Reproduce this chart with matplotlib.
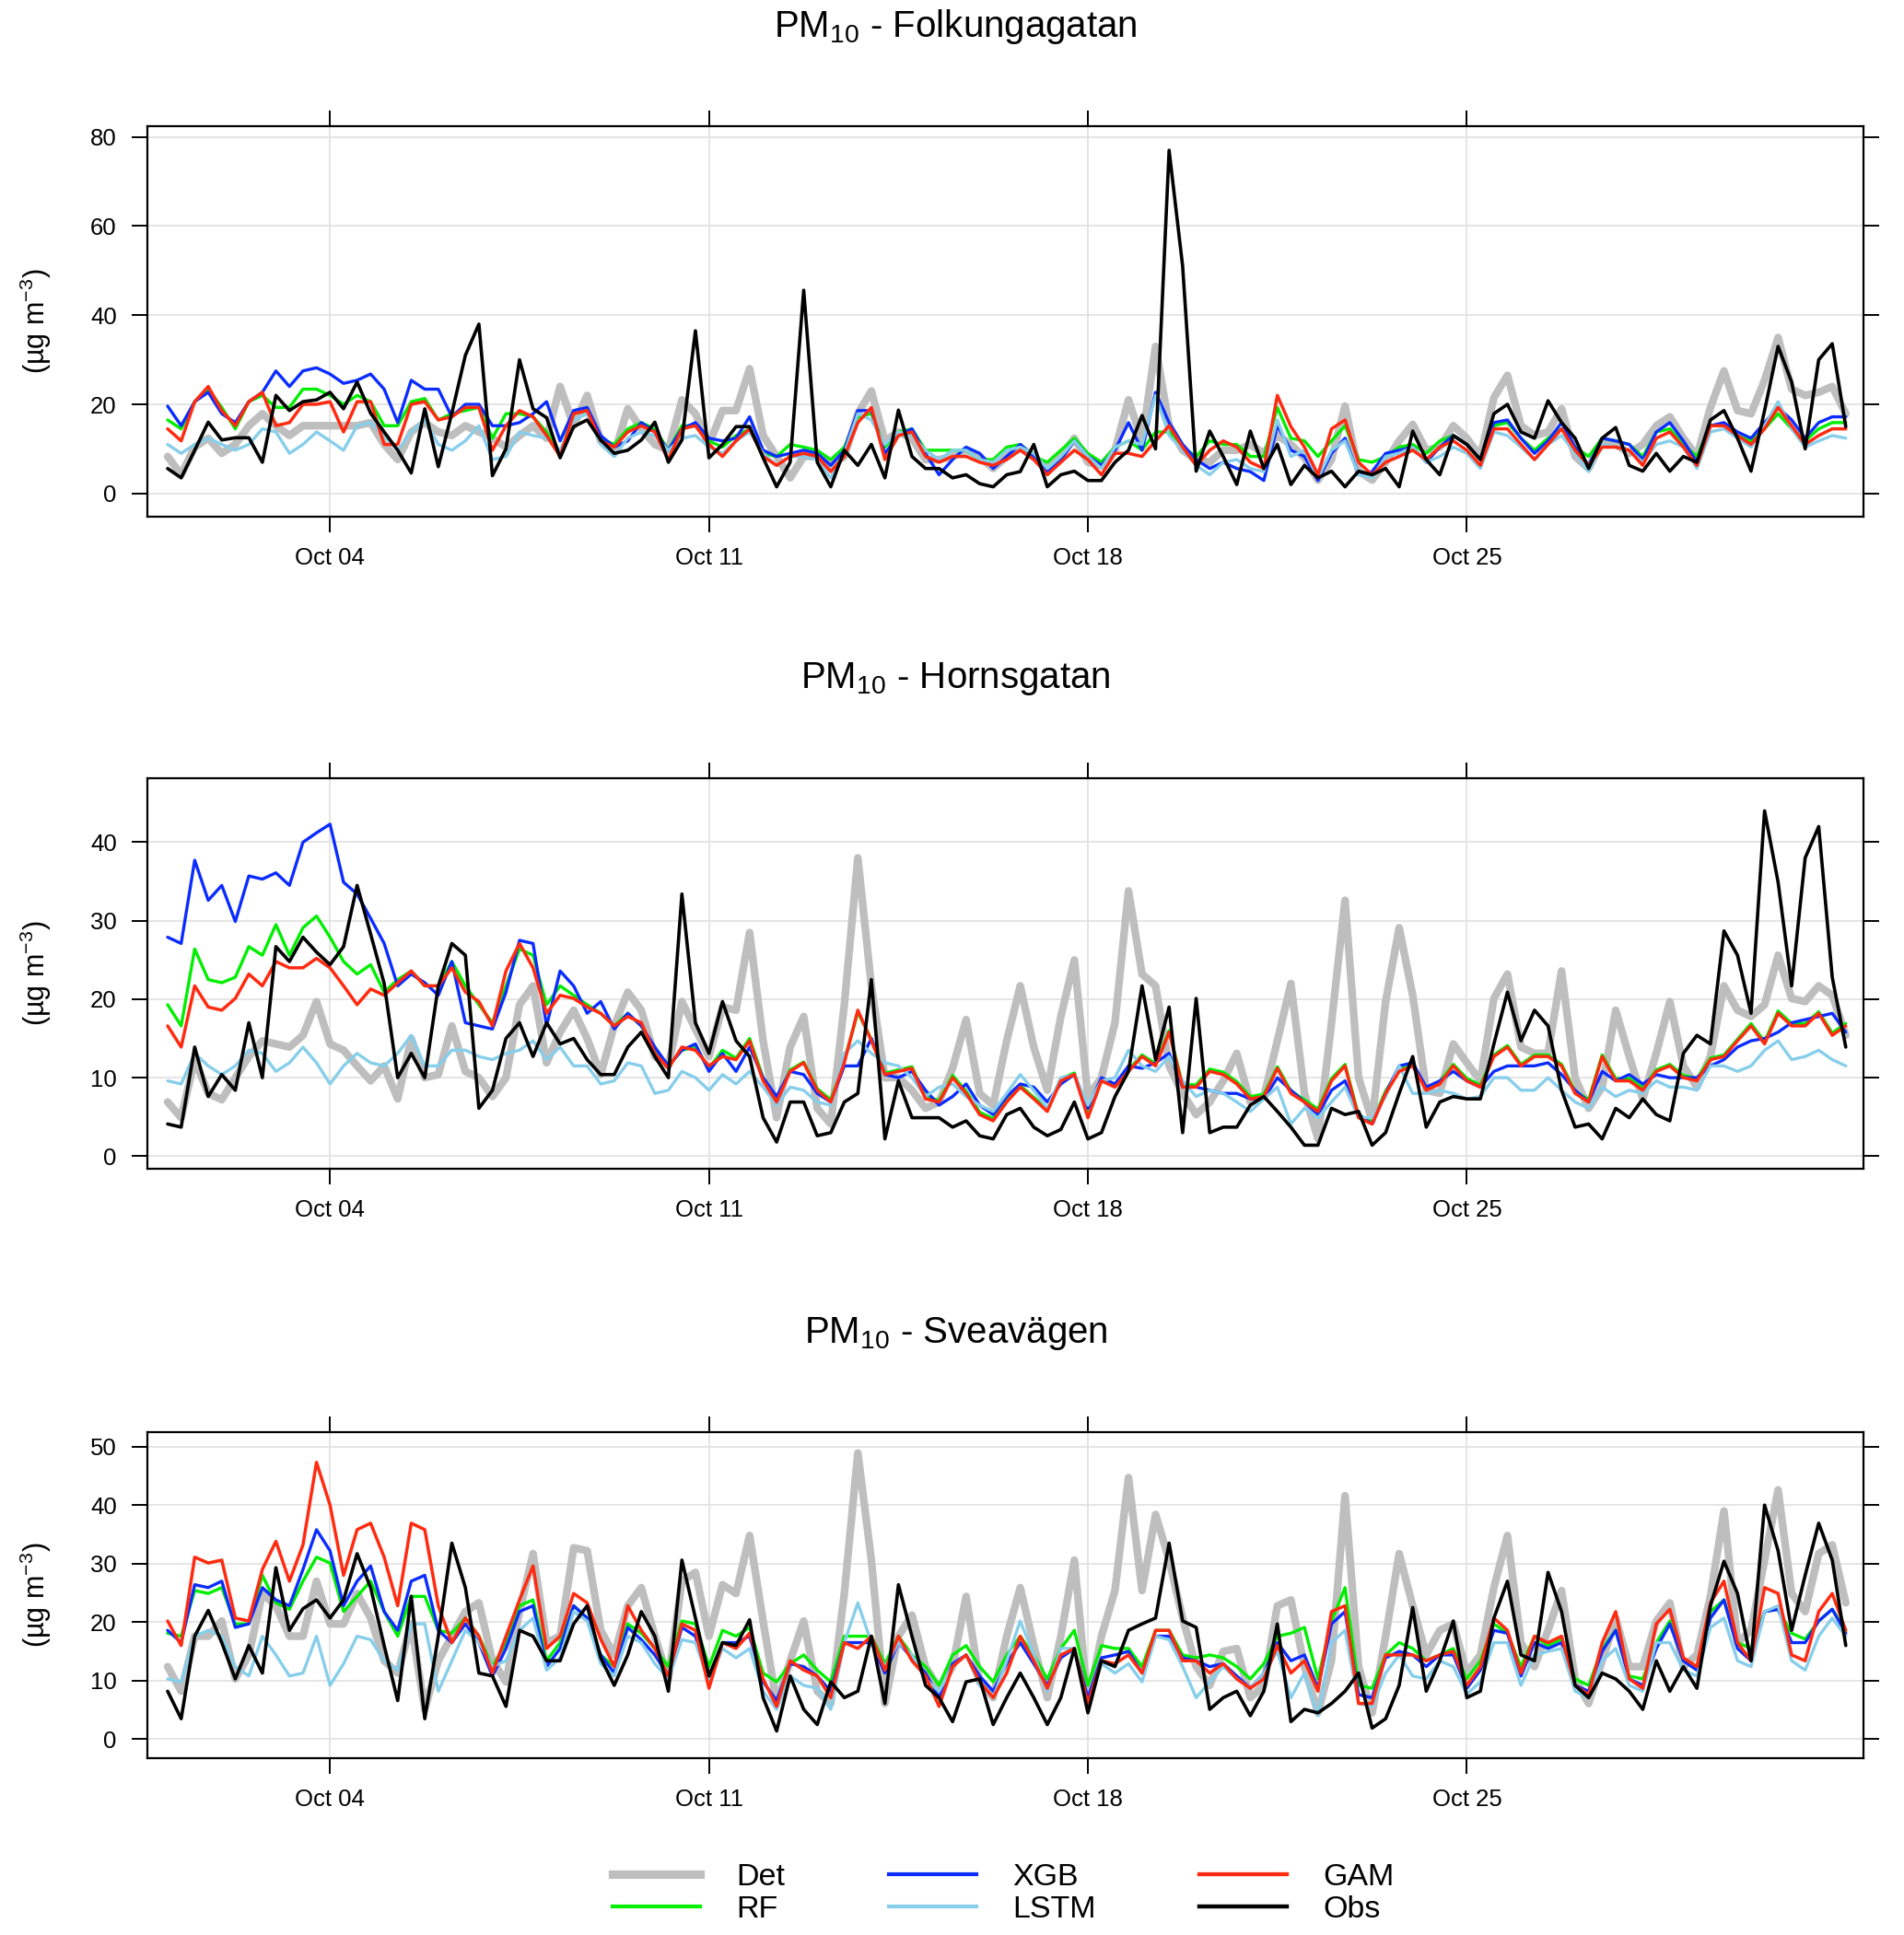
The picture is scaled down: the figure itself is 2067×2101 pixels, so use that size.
import numpy as np
import pandas as pd
import matplotlib
matplotlib.use("Agg")
import matplotlib.pyplot as plt
import matplotlib.dates as mdates
from matplotlib.lines import Line2D

plt.rcParams["font.family"] = ["Liberation Sans", "DejaVu Sans"]
plt.rcParams["mathtext.fontset"] = "custom"
plt.rcParams["mathtext.rm"] = "Liberation Sans"
plt.rcParams["mathtext.it"] = "Liberation Sans:italic"

# 6-hourly samples, 1 Oct 00:00 .. 1 Nov 00:00
times = pd.date_range("2020-10-01", periods=125, freq="6h")

# --------------------------------------------------
# Folkungagatan
# --------------------------------------------------
obs1 = [5.6, 3.5, 9.7, 16, 12, 12.5, 12.5, 7, 22, 18.6, 20.6, 21, 22.7, 19, 25, 18,
        13.8, 9.7, 4.6, 19, 6, 18, 31, 38, 4, 10, 30, 19, 17, 8, 15, 16.5,
        12, 9, 9.7, 12, 16, 7, 12, 36.5, 8, 11, 15, 15, 8, 1.5, 7, 45.6,
        7, 1.5, 9.7, 6.3, 11, 3.5, 18.7, 8.3, 5.6, 5.6, 3.5, 4.2, 2.2, 1.5, 4.2, 4.9,
        11, 1.5, 4.2, 5, 2.9, 2.9, 7, 9.7, 17.5, 10, 77, 51, 5, 14, 8.3, 2,
        14, 5.6, 11, 2, 6.3, 3.5, 5, 1.5, 5, 4.2, 5.6, 1.5, 14, 7.6, 4.2, 13,
        11, 7.6, 17.9, 20, 13.8, 12.4, 20.8, 15.9, 12.4, 5.6, 12.4, 14.8, 6.3, 5, 9, 5,
        8.3, 7, 16.5, 18.6, 12.4, 5, 18.6, 33, 25, 10, 30, 33.6, 15]
det1 = [8.3, 4.2, 10.4, 12.4, 9, 11, 15.2, 17.9, 15.2, 13, 15.2, 15.2, 15.2, 15.2, 15.2, 15.9,
        11, 7.6, 13.8, 15.9, 13.8, 13, 15.2, 13.8, 12.4, 10.4, 13, 15.2, 12.4, 24, 15.2, 22,
        11.8, 9, 19, 14.5, 11, 9.7, 21, 17.9, 11, 18.6, 18.6, 28, 13, 8.3, 3.5, 8.3,
        8.3, 6.3, 8.3, 17.9, 23, 11.8, 13.8, 12.4, 7.6, 7.6, 8.3, 9.7, 8.3, 5.6, 8.3, 10.4,
        8.3, 5.6, 8.3, 12.4, 7, 6.3, 9.7, 21, 11.8, 33, 15.2, 9.7, 7.6, 7, 9.7, 9.7,
        11, 9, 13, 11, 8, 3, 7.6, 19.6, 5, 3, 7, 11.8, 15.5, 9.7, 10.4, 15.2,
        12.4, 8.3, 21.5, 26.5, 15.2, 13, 13.8, 19, 8.3, 5.6, 11.8, 11, 9, 11, 15.2, 17.2,
        12.4, 8.3, 19.3, 27.5, 18.6, 17.9, 25.4, 35, 23.4, 22, 22.7, 24, 17.9]
rf1 = [16.5, 14.5, 20.6, 23.4, 19.3, 14.5, 20.6, 22, 19.3, 19.3, 23.4, 23.4, 22, 20, 22, 20.6,
       15.2, 15.2, 20.6, 21.3, 16.5, 17.9, 18.6, 19.3, 12.4, 17.9, 17.9, 17.2, 13.8, 9, 17.9, 18.6,
       12.4, 11, 14.5, 15.9, 14.5, 9.7, 15.2, 15.2, 11.8, 10.4, 13, 14.5, 9, 8.3, 11, 10.4,
       9.7, 7.6, 10.4, 17.2, 17.9, 10.4, 13.8, 14.5, 9.7, 9.7, 9.7, 9.7, 7.6, 7.6, 10.4, 11,
       8.3, 7, 9.7, 12.4, 9, 7, 10.4, 11.8, 9.7, 13.8, 13.8, 10.4, 8.3, 11.8, 11, 11,
       8.3, 8.3, 19.3, 12.4, 11.8, 8.3, 11.8, 15.2, 7.6, 7, 8.3, 10.4, 11, 9, 11.8, 13,
       11, 7.6, 15.2, 15.9, 12.4, 9.7, 12.4, 14.5, 10.4, 8.3, 12.4, 11.8, 11, 8.3, 13.8, 14.5,
       11, 8.3, 15.2, 15.2, 13, 11.8, 14.5, 17.9, 14.5, 11.8, 14.5, 15.9, 15.9]
xgb1 = [19.6, 15.2, 20.6, 22.7, 17.9, 15.9, 20.6, 22.7, 27.5, 24, 27.5, 28.2, 26.8, 24.7, 25.4, 26.8,
        23.4, 15.9, 25.4, 23.4, 23.4, 17.2, 20, 20, 15.2, 15.2, 15.9, 17.9, 20.6, 11.8, 18.6, 19.3,
        13, 10.4, 11.8, 15.9, 13.8, 9.7, 14.5, 15.9, 12.4, 11.8, 12.4, 17.2, 9.7, 8.3, 9, 9.7,
        9, 6.3, 9.7, 18.6, 18.6, 9, 13, 14.5, 9, 4.2, 7.6, 10.4, 9, 5.6, 8.3, 11,
        8.3, 4.9, 7.6, 11.8, 8.3, 6.3, 9.7, 15.9, 9.7, 22.7, 15.9, 11, 7.6, 5.6, 7, 5.6,
        4.9, 2.9, 15.2, 9.7, 8.3, 2.9, 9, 12.4, 4.2, 4.9, 9, 9.7, 10.4, 7, 10.4, 13,
        11, 7.6, 15.9, 16.5, 12.4, 9, 11.8, 15.9, 10.4, 6.3, 12.4, 11.8, 11, 7.6, 13.8, 15.9,
        11.8, 7, 15.2, 15.9, 13.8, 12.4, 15.9, 19.3, 16.5, 12.4, 15.9, 17.2, 17.2]
lstm1 = [11, 9, 11, 12.4, 11, 9.7, 11, 14.5, 13.8, 9, 11, 13.8, 11.8, 9.7, 15.2, 15.9,
         13, 9.7, 13.8, 16.5, 11, 9.7, 11.8, 15.2, 7.6, 8.3, 13.8, 13, 12.4, 9.7, 16.5, 17.9,
         11, 8.3, 12.4, 13.8, 13, 9.7, 12.4, 13, 10.4, 9, 11.8, 13.8, 9, 6.3, 8.3, 8.3,
         7.6, 3.5, 9, 17.9, 16.5, 11, 13.8, 13, 9.7, 7.6, 9.7, 9.7, 7.6, 7, 9.7, 10.4,
         9, 5.6, 8.3, 11.8, 8.3, 5.6, 10.4, 11.8, 11, 22, 13, 9.7, 6.3, 4.2, 7, 7.6,
         5.6, 4.9, 16.5, 8.3, 9.7, 3.5, 9.7, 11.8, 4.2, 3.5, 8.3, 9, 10.4, 7, 8.3, 10.4,
         9, 5.6, 13.8, 13, 10.4, 7.6, 11, 13, 9, 4.9, 11, 10.4, 9.7, 7, 11, 11.8,
         10.4, 5.6, 13.8, 14.5, 12.4, 10.4, 15.2, 20.6, 14.5, 10.4, 11.8, 13, 12.4]
gam1 = [14.5, 11.8, 20.6, 24, 18.6, 15.2, 20.6, 22.7, 15.2, 15.9, 20, 20, 20.6, 13.8, 20.6, 20.6,
        11, 11, 20, 20.6, 16.5, 17.2, 19.3, 19.3, 9.7, 15.2, 18.6, 17.2, 13, 8.3, 17.9, 18.6,
        11.8, 10.4, 13.8, 15.2, 13.8, 7.6, 14.5, 15.2, 11, 8.3, 11.8, 14.5, 8.3, 6.3, 8.3, 9,
        8.3, 4.9, 8.3, 15.9, 19.3, 7.6, 13, 13.8, 8.3, 7, 8.3, 8.3, 7, 6.3, 7.6, 9.7,
        7.6, 4.2, 7, 9.7, 7.6, 4.2, 9, 9, 8.3, 11.8, 15.2, 10.4, 6.3, 9.7, 11.8, 10.4,
        7, 5.6, 22, 15, 10.4, 4.2, 14.5, 16.5, 7, 4.2, 7, 8.3, 9.7, 7.6, 10.4, 11.8,
        9.7, 6.3, 14.5, 14.5, 11, 7.6, 11, 14.5, 9.7, 6.3, 10.4, 10.4, 9.7, 6.3, 12.4, 13.8,
        10.4, 6.3, 15.2, 15.2, 13, 11, 14.5, 19.3, 15.2, 11, 13, 14.5, 14.5]

# --------------------------------------------------
# Hornsgatan
# --------------------------------------------------
obs2 = [4.1, 3.7, 13.9, 7.6, 10.4, 8.4, 17, 10, 26.7, 24.8, 27.9, 26, 24.4, 26.7, 34.5, 28.3,
        22, 10, 13.1, 10, 21.7, 27.1, 25.6, 6.1, 8.4, 15, 17, 12.7, 17, 14.3, 15, 12.3,
        10.4, 10.4, 13.9, 15.8, 12.7, 10, 33.4, 17, 13.1, 19.7, 14.7, 12.7, 4.9, 1.8, 6.9, 6.9,
        2.6, 3, 6.9, 8, 22.5, 2.2, 9.6, 4.9, 4.9, 4.9, 3.7, 4.5, 2.6, 2.2, 5.3, 6.1,
        3.7, 2.6, 3.4, 6.9, 2.2, 3, 7.6, 10.8, 21.7, 12.3, 19, 3, 20.1, 3, 3.7, 3.7,
        6.5, 7.6, 5.7, 3.7, 1.4, 1.4, 6.1, 5.3, 5.7, 1.4, 3, 8, 12.7, 3.7, 6.9, 7.6,
        7.3, 7.3, 14.3, 20.9, 14.7, 18.6, 16.6, 8.4, 3.7, 4.1, 2.2, 6.1, 4.9, 7.3, 5.3, 4.5,
        13.1, 15.4, 14.3, 28.7, 25.6, 18.2, 44, 34.9, 21.7, 38, 42, 22.8, 13.9]
det2 = [6.9, 4.9, 12.3, 8, 7.2, 10, 12.7, 14.7, 14.3, 13.9, 15.4, 19.7, 14.3, 13.5, 11.5, 9.6,
        11.5, 7.3, 15, 10, 10.4, 16.6, 10.8, 10, 7.6, 10, 19.3, 21.7, 11.9, 15.8, 18.6, 15,
        10.4, 16.6, 20.9, 18.6, 12.7, 11.5, 19.7, 16.2, 12.7, 19, 18.6, 28.5, 14.7, 4.9, 13.9, 17.8,
        6.1, 4.1, 19.3, 38, 21.7, 10, 10, 8.4, 6.1, 6.9, 11.2, 17.4, 8, 6.5, 14.7, 21.7,
        13.9, 8.4, 17.8, 25, 7.6, 10, 17, 33.8, 23.2, 21.7, 11.5, 8, 5.3, 6.9, 9.6, 13.1,
        6.9, 7.6, 14.7, 22, 8, 2.2, 17, 32.6, 10, 4.5, 19.7, 29.1, 20.5, 8.4, 8, 14.3,
        11.9, 9.6, 20.1, 23.2, 13.9, 13.1, 13.1, 23.6, 10, 6.1, 8.8, 18.6, 12.7, 7.3, 13.1, 19.7,
        11.5, 8.8, 12.7, 21.7, 18.6, 17.8, 19.3, 25.6, 20.1, 19.7, 21.7, 20.5, 15.4]
rf2 = [19.3, 16.6, 26.4, 22.5, 22.1, 22.8, 26.7, 25.6, 29.5, 25.6, 29.1, 30.6, 27.9, 24.8, 23.2, 24.4,
       20.9, 22.5, 23.6, 21.7, 21.7, 24.8, 21.7, 19.3, 17, 21.7, 26.4, 25.6, 19.3, 21.7, 20.5, 19.3,
       18.2, 16.6, 18.2, 16.6, 13.5, 11.5, 13.5, 13.9, 11.2, 13.5, 12.5, 15, 10, 7.2, 11, 12,
       8.6, 7.2, 12.2, 18.3, 14.9, 10.6, 11, 11.4, 7.6, 7.1, 10.3, 8.3, 5.6, 4.8, 7.2, 9,
       7.5, 6, 9.9, 10.6, 5.2, 9.8, 9.1, 11, 12.9, 11.8, 16, 9.1, 9.1, 11.1, 10.7, 9.5,
       7.6, 7.9, 11.4, 8.3, 7.2, 6, 9.9, 11.7, 5.2, 4.4, 8.3, 11, 11.7, 8.7, 9.5, 11.7,
       9.9, 9.1, 12.9, 14.1, 11.7, 12.9, 12.9, 11.7, 8.3, 7.2, 12.9, 9.9, 9.9, 8.7, 11, 11.7,
       10.3, 9.9, 12.5, 12.9, 14.9, 16.9, 14.6, 18.5, 16.9, 16.9, 18.4, 15.7, 16.9]
xgb2 = [27.9, 27.1, 37.7, 32.6, 34.5, 29.9, 35.7, 35.3, 36.1, 34.5, 40, 41.2, 42.3, 34.9, 33.4, 30.3,
        27.1, 21.7, 23.2, 22.1, 20.5, 24.8, 17, 16.6, 16.2, 20.9, 27.5, 27.1, 16.6, 23.6, 21.7, 18.2,
        19.7, 16.2, 18.2, 16.6, 13.9, 11.5, 13.5, 14.3, 10.8, 13.1, 10.8, 13.9, 10, 7.6, 10.8, 10.4,
        8, 6.9, 11.5, 11.5, 15, 10.4, 10, 10.8, 8.4, 6.5, 7.6, 9.2, 6.5, 5.3, 7.6, 9.2,
        8.8, 6.9, 9.2, 10.4, 6.1, 10, 9.2, 11.5, 11.2, 11.9, 13.1, 8.8, 8.8, 8.4, 8, 8,
        7.3, 7.3, 10, 8.4, 6.9, 5.3, 8.4, 9.6, 5.3, 4.1, 8, 11.5, 11.9, 8.8, 9.6, 10.8,
        9.6, 8.8, 10.8, 11.5, 11.5, 11.5, 11.9, 10.4, 8.4, 6.9, 10.8, 9.6, 10.4, 9.2, 10.4, 10,
        10, 10, 11.5, 12.3, 13.9, 14.7, 15, 15.8, 17, 17.4, 17.8, 18.2, 15.8]
lstm2 = [9.6, 9.2, 13.1, 11.5, 10.4, 11.5, 13.5, 13.1, 10.8, 11.9, 13.9, 11.9, 9.2, 11.5, 13.1, 11.9,
         11.5, 13.1, 15.4, 11.5, 11.5, 13.5, 13.5, 12.7, 12.3, 13.1, 13.5, 14.7, 12.3, 13.9, 11.5, 11.5,
         9.2, 9.6, 11.9, 11.5, 8, 8.4, 10.8, 10, 8.4, 10.4, 9.2, 10.8, 8.8, 6.5, 8.8, 8.4,
         6.9, 6.5, 13.1, 14.7, 13.1, 11.9, 11.5, 10, 7.6, 8.8, 9.2, 7.6, 6.5, 5.7, 8, 10.4,
         8.4, 6.1, 10, 10.4, 6.5, 9.6, 10, 13.5, 11.5, 10.8, 12.7, 9.6, 7.6, 8.4, 8, 6.9,
         5.7, 7.3, 8.8, 4.1, 6.1, 4.9, 6.9, 8.8, 4.9, 4.9, 7.6, 11.5, 8, 8, 8.4, 8,
         7.3, 7.6, 10, 10, 8.4, 8.4, 10, 8.4, 6.9, 6.1, 8.8, 7.6, 8.4, 8, 9.6, 8.8,
         8.8, 8.4, 11.5, 11.5, 10.8, 11.5, 13.5, 14.7, 12.3, 12.7, 13.5, 12.3, 11.5]
gam2 = [16.6, 13.9, 21.7, 19, 18.6, 20.1, 23.2, 21.7, 24.8, 24, 24, 25.2, 24, 21.7, 19.3, 21.3,
        20.5, 22.1, 23.6, 21.7, 21.7, 24, 20.9, 19.7, 16.6, 23.6, 27.1, 24, 18.2, 20.5, 20.1, 19,
        18.2, 16.6, 17.8, 17, 13.1, 11.2, 13.9, 13.5, 11.5, 12.7, 12.3, 14.7, 9.6, 6.9, 10.8, 11.9,
        8.4, 6.9, 11.9, 18.6, 14.7, 10.4, 10.8, 11.2, 7.3, 6.9, 10, 8, 5.3, 4.5, 6.9, 8.8,
        7.3, 5.7, 9.6, 10.4, 4.9, 9.6, 8.8, 10.8, 12.7, 11.5, 15.8, 8.8, 8.8, 10.8, 10.4, 9.2,
        7.3, 7.6, 11.2, 8, 6.9, 5.7, 9.6, 11.5, 4.9, 4.1, 8, 10.8, 11.5, 8.4, 9.2, 11.5,
        9.6, 8.8, 12.7, 13.9, 11.5, 12.7, 12.7, 11.5, 8, 6.9, 12.7, 9.6, 9.6, 8.4, 10.8, 11.5,
        10, 9.6, 12.3, 12.7, 14.7, 16.6, 14.3, 18.2, 16.6, 16.6, 18.2, 15.4, 16.6]

# --------------------------------------------------
# Sveavägen
# --------------------------------------------------
obs3 = [8.2, 3.5, 17.6, 22, 16.5, 10.3, 16, 11.3, 29.3, 18.6, 22.3, 23.8, 20.7, 23.8, 31.7, 25.9,
        16, 6.6, 24.4, 3.5, 17.6, 33.5, 25.9, 11.3, 10.8, 5.6, 18.6, 17.6, 13.4, 13.4, 19.7, 22.8,
        13.9, 9.2, 14.4, 21.8, 17.6, 8.2, 30.6, 20.7, 10.8, 16.5, 16, 20.4, 7.1, 1.4, 10.8, 5.1,
        2.5, 9.8, 7.1, 8.2, 17.6, 6.1, 26.4, 17.6, 9.2, 7.1, 3, 9.8, 10.3, 2.5, 7.1, 11.3,
        7.1, 2.5, 7.1, 15.5, 4.5, 13.4, 12.4, 18.6, 19.7, 20.7, 33.5, 20.2, 19.1, 5.1, 7.1, 8.2,
        4, 8.2, 19.7, 3, 5.1, 4.5, 6.1, 8.2, 11.3, 1.9, 3.5, 9.2, 22.5, 8.2, 13.4, 20.2,
        7.1, 8.2, 20.7, 27, 14.4, 13.4, 28.5, 21.8, 9.2, 7.1, 11.3, 10.3, 8.2, 5.1, 13.4, 8.2,
        12.4, 8.7, 22.8, 30.4, 24.9, 13.4, 40, 32.2, 18.6, 28, 36.9, 30.6, 16]
det3 = [12.4, 8.2, 17.6, 17.6, 20.2, 10.3, 14.4, 24.9, 22.8, 17.6, 17.6, 27, 19.7, 19.7, 24.9, 20.7,
        13.4, 11.3, 19.7, 5.1, 13.4, 17.6, 21.8, 23.3, 13.4, 9.8, 21.8, 31.7, 16.5, 17.6, 32.7, 32.2,
        18.6, 14.4, 22.8, 25.9, 17.6, 10.3, 27, 28.5, 17.6, 26.4, 24.9, 34.8, 20.2, 6.1, 13.4, 20.2,
        8.2, 6.1, 24.9, 48.9, 30.6, 6.1, 17.6, 21.2, 12.4, 8.7, 12.4, 24.4, 9.8, 7.1, 17.6, 25.9,
        16, 7.1, 17.6, 30.6, 6.1, 17.6, 25.4, 44.7, 25.4, 38.4, 30.6, 20.7, 12.4, 9.2, 15, 15.5,
        7.1, 9.2, 22.8, 23.8, 12.4, 4.5, 13.4, 41.6, 12.4, 4.5, 17.6, 31.7, 22.8, 14.4, 18.6, 19.7,
        11.3, 14.4, 25.9, 34.8, 16.5, 12.4, 18.6, 25.4, 10.3, 6.1, 13.4, 20.7, 12.4, 12.4, 20.2, 23.3,
        12.4, 14.4, 24.4, 39, 16.5, 18.6, 30.6, 42.6, 24.9, 21.8, 31.7, 33.2, 23.3]
rf3 = [18.1, 17.6, 25.4, 24.9, 25.9, 19.7, 19.7, 28, 23.3, 22.2, 27, 31.1, 30.1, 21.8, 24.4, 27,
       21.8, 17.6, 24.4, 24.4, 18.6, 18.1, 20.7, 17.6, 12.4, 16.5, 22.8, 23.8, 13.4, 16.5, 22.8, 20.7,
       14.4, 12.4, 19.7, 18.1, 15.5, 12.4, 20.2, 19.7, 12.4, 18.6, 17.6, 19.1, 11.3, 9.8, 12.9, 14.4,
       11.8, 9.8, 17.6, 17.6, 17.6, 12.9, 17.6, 14.4, 12.4, 9.2, 14.4, 16, 12.4, 9.8, 14.4, 17.6,
       14.4, 10.3, 15.5, 18.6, 9.2, 16, 15.5, 15.5, 12.4, 18.6, 18.6, 14.4, 13.9, 14.4, 13.9, 12.4,
       10.3, 12.9, 17.6, 18.1, 19.1, 10.3, 20.2, 25.9, 9.2, 8.7, 14.4, 16.5, 15.5, 13.4, 14.4, 15.5,
       10.3, 13.4, 19.7, 18.1, 12.4, 17.6, 16, 17.1, 10.3, 9.2, 15.5, 18.6, 10.8, 10.3, 16.5, 20.2,
       13.4, 12.4, 21.8, 23.8, 16.5, 15.5, 21.8, 22.2, 18.1, 17.1, 20.2, 22.2, 18.6]
xgb3 = [18.6, 16.5, 26.4, 25.9, 27, 19.1, 19.7, 25.9, 23.8, 22.8, 29, 35.8, 32.2, 22.8, 27, 29.6,
        21.8, 18.6, 27, 28, 18.6, 16.5, 19.7, 16.5, 10.8, 15.5, 21.8, 22.8, 12.4, 15.5, 22.8, 20.7,
        14.4, 11.3, 19.1, 17, 14.4, 10.8, 19.1, 17.6, 9.8, 16.5, 16.5, 17.6, 9.8, 6.6, 12.9, 12.4,
        10.8, 8.2, 16.5, 16.5, 16.5, 11.3, 16.5, 13.9, 11.3, 7.1, 12.9, 14.4, 10.8, 8.2, 12.9, 16.5,
        12.9, 9.2, 13.9, 15.5, 7.1, 13.9, 14.4, 15, 11.3, 17.6, 17.6, 13.9, 13.4, 12.4, 12.9, 10.8,
        8.7, 11.3, 16.5, 13.4, 14.4, 8.7, 19.7, 21.8, 7.6, 7.1, 13.9, 15, 14.4, 12.4, 14.4, 14.4,
        8.7, 11.8, 18.6, 18.1, 10.8, 16.5, 15.5, 16.5, 9.2, 8.2, 15, 18.6, 10.3, 9.2, 15.5, 19.7,
        13.4, 11.8, 20.7, 23.8, 15.5, 13.4, 21.8, 22.2, 16.5, 16.5, 20.2, 22.2, 18.1]
lstm3 = [10.3, 9.8, 17.6, 18.6, 17.6, 12.4, 10.8, 17.6, 14.4, 10.8, 11.3, 17.6, 9.2, 12.9, 17.6, 17,
         13.4, 11.8, 19.7, 19.7, 8.2, 13.4, 18.6, 16.5, 12.4, 13.4, 18.6, 20.7, 11.8, 13.9, 21.8, 20.2,
         12.9, 10.8, 17.6, 16.5, 12.9, 10.3, 17, 16.5, 9.8, 15.5, 13.9, 15.5, 8.2, 5.1, 10.8, 9.2,
         8.7, 5.1, 16.5, 23.3, 16.5, 12.4, 16.5, 14.4, 10.3, 8.2, 12.4, 14.4, 9.2, 7.1, 13.4, 20.2,
         14.4, 8.2, 15.5, 15.5, 5.6, 12.9, 11.3, 12.9, 9.8, 17.6, 17, 12.4, 7.1, 9.8, 12.4, 10.3,
         8.7, 11.3, 15, 7.1, 11.3, 4, 16.5, 18.6, 6.1, 5.6, 11.3, 14.4, 10.8, 10.3, 13.4, 12.4,
         7.7, 9.8, 16.5, 16.5, 9.2, 14.4, 15, 15.5, 8.2, 7.1, 13.4, 15.5, 9.2, 8.2, 16.5, 16.5,
         11.8, 10.8, 19.1, 20.7, 13.4, 12.4, 21.8, 22.8, 13.4, 11.8, 17.6, 20.7, 17.6]
gam3 = [20.2, 16, 31.1, 30.1, 30.6, 20.7, 20.2, 29, 33.8, 27, 33.2, 47.3, 40, 28, 35.8, 36.9,
        31.1, 22.8, 36.9, 35.8, 22.8, 16.5, 20.7, 17.6, 11.3, 17.6, 23.8, 29.6, 15.5, 17.6, 24.9, 23.3,
        17.1, 12.4, 22.8, 18.6, 15.5, 10.8, 19.7, 18.6, 8.7, 16.5, 15.5, 18.1, 10.3, 5.6, 13.4, 11.8,
        10.8, 7.1, 16.5, 15.5, 17.6, 11.8, 17.6, 13.4, 10.8, 5.6, 12.4, 14.4, 9.8, 7.1, 11.3, 17.6,
        13.4, 8.7, 14.4, 15.5, 6.1, 13.4, 12.9, 14.4, 11.3, 18.6, 18.6, 13.4, 13.4, 11.3, 12.9, 10.3,
        8.7, 10.3, 16, 11.3, 13.4, 8.2, 21.8, 22.8, 6.1, 6.1, 14.4, 14.4, 14.4, 13.4, 14.4, 15,
        9.2, 12.4, 20.7, 18.6, 11.3, 17.6, 16.5, 17.6, 9.2, 7.6, 16.5, 21.8, 10.3, 8.7, 19.7, 22.2,
        13.9, 12.4, 23.3, 27, 16.5, 13.4, 25.9, 24.9, 14.4, 13.4, 21.8, 24.9, 18.6]

stations = ["Folkungagatan", "Hornsgatan", "Sveavägen"]
panel_data = [
    (det1, rf1, xgb1, lstm1, gam1, obs1),
    (det2, rf2, xgb2, lstm2, gam2, obs2),
    (det3, rf3, xgb3, lstm3, gam3, obs3),
]
y_limits = [(-5.2, 82.5), (-1.6, 48.2), (-3.2, 52.5)]
y_ticks = [[0, 20, 40, 60, 80], [0, 10, 20, 30, 40], [0, 10, 20, 30, 40, 50]]

names = ["Det", "RF", "XGB", "LSTM", "GAM", "Obs"]
colors = ["#bebebe", "#00ee00", "#0a2cff", "#87ceeb", "#ff2a10", "#000000"]
widths = [6.0, 2.4, 2.4, 2.4, 2.5, 2.6]

# axes boxes [left, bottom, width, height] and title heights
boxes = [[0.0775, 0.733, 0.9013, 0.202],
         [0.0775, 0.396, 0.9013, 0.202],
         [0.0775, 0.0915, 0.9013, 0.1685]]
title_y = [0.986, 0.649, 0.311]

fig = plt.figure(figsize=(20.67, 21.01), dpi=100)

x_start = pd.Timestamp("2020-10-01") - pd.Timedelta(hours=8.9)
x_end = pd.Timestamp("2020-10-01") + pd.Timedelta(hours=31.33 * 24)
date_ticks = pd.to_datetime(["2020-10-04", "2020-10-11", "2020-10-18", "2020-10-25"])

for i, station in enumerate(stations):
    ax = fig.add_axes(boxes[i])
    for series, c, lw in zip(panel_data[i], colors, widths):
        ax.plot(times, series, color=c, lw=lw, solid_joinstyle="round",
                solid_capstyle="round")

    ax.set_xlim(x_start, x_end)
    ax.set_ylim(*y_limits[i])
    ax.set_xticks(date_ticks)
    ax.xaxis.set_major_formatter(mdates.DateFormatter("%b %d"))
    ax.set_yticks(y_ticks[i])
    ax.grid(True, color="#e3e3e3", lw=1.3)
    ax.set_axisbelow(True)
    ax.tick_params(direction="out", length=12, width=1.4, labelsize=18.5,
                   top=True, right=True, labeltop=False, labelright=False)
    ax.tick_params(axis="x", pad=12)
    ax.tick_params(axis="y", pad=12)
    for sp in ax.spines.values():
        sp.set_linewidth(1.6)

    box = boxes[i]
    fig.text(0.0186, box[1] + box[3] / 2, "(µg m$^{-3}$)", rotation=90,
             ha="center", va="center", fontsize=22)
    fig.text(0.502, title_y[i], "PM$_{10}$ - " + station,
             ha="center", va="center", fontsize=29)

handles = [Line2D([], [], color=c, lw=lw + 0.6) for c, lw in zip(colors, widths)]
fig.legend(handles, names, loc="center", bbox_to_anchor=(0.527, 0.0215), ncol=3,
           frameon=False, fontsize=24.5, handlelength=2.8, handletextpad=1.15,
           columnspacing=3.3, labelspacing=0.12, borderpad=0)

fig.savefig("out.png", dpi=100)
